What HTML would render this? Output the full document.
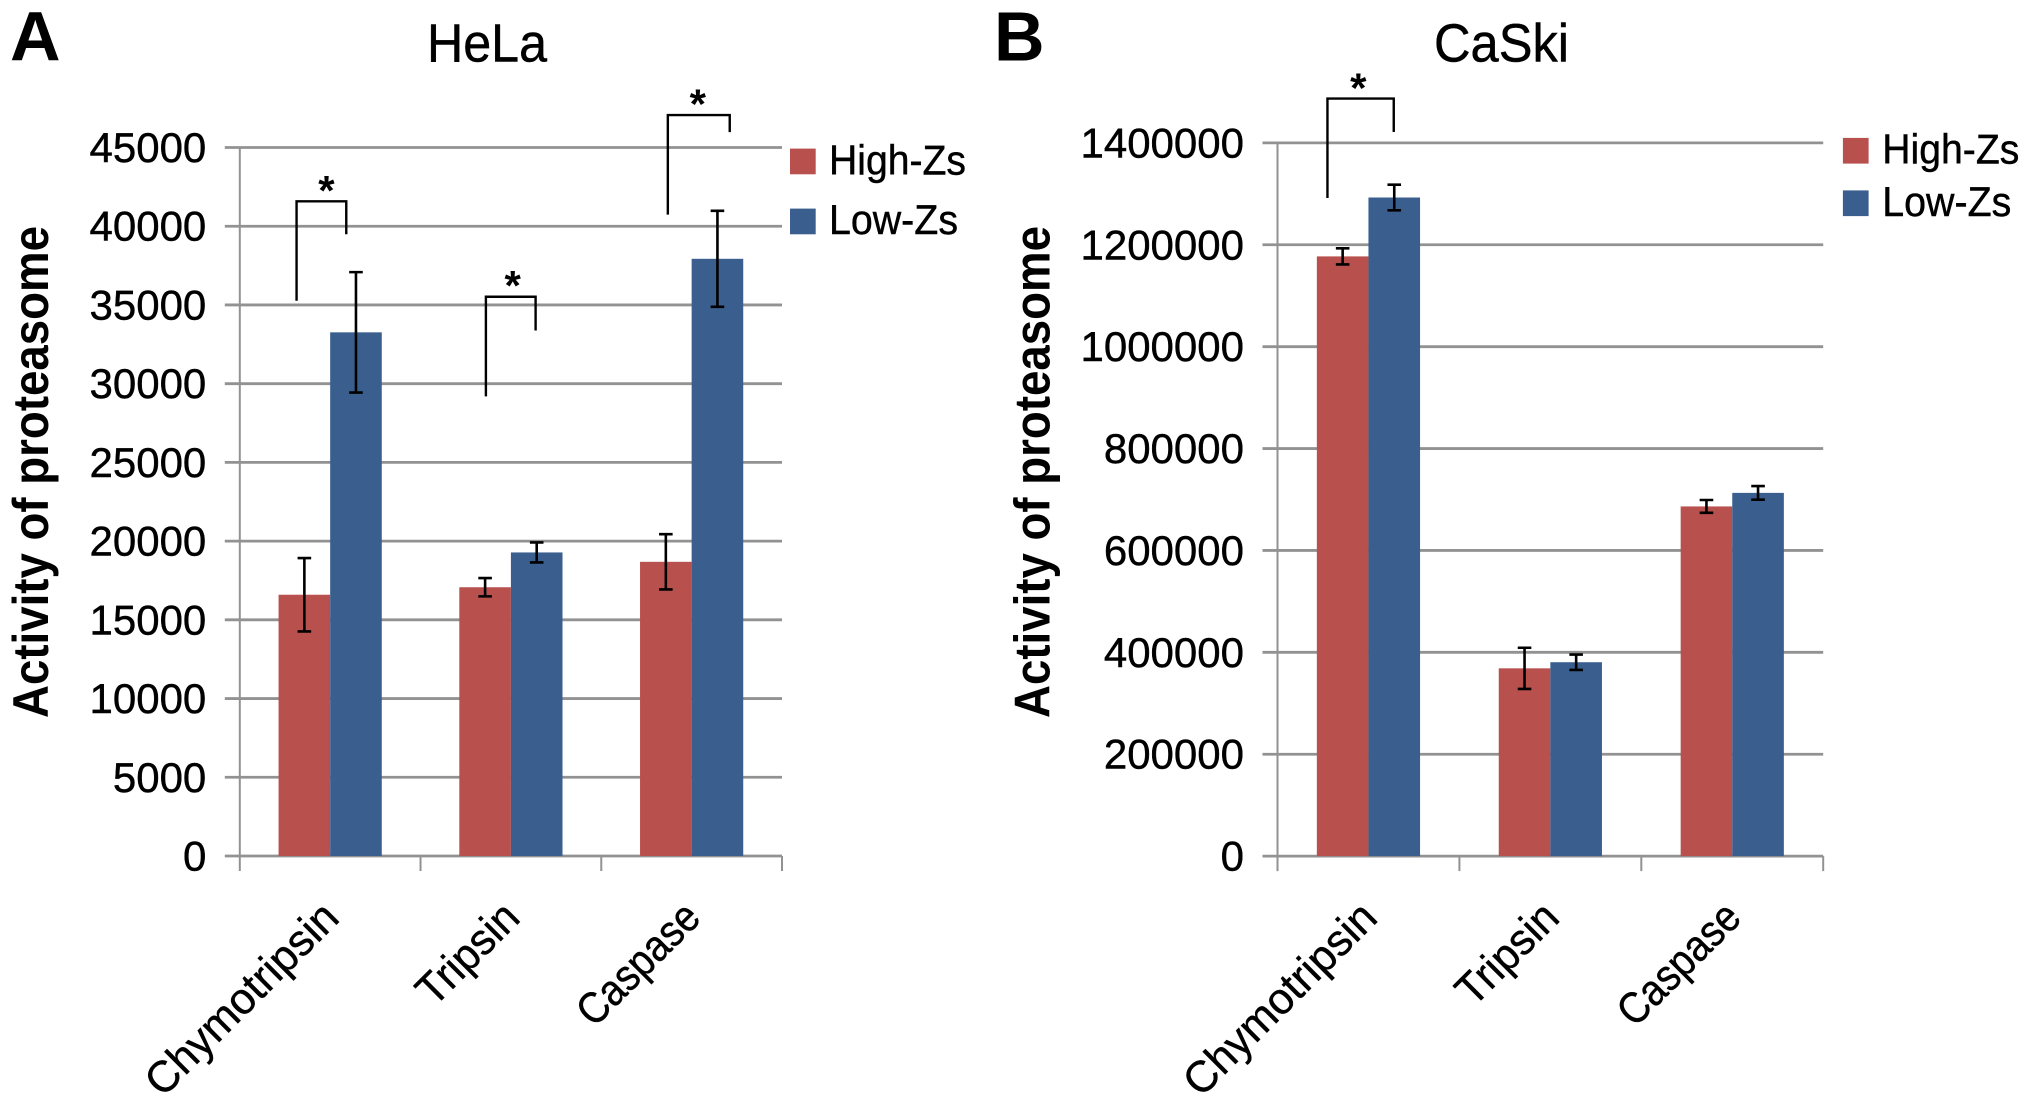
<!DOCTYPE html>
<html lang="en">
<head>
<meta charset="utf-8">
<title>Activity of proteasome: HeLa and CaSki</title>
<style>
html,body{margin:0;padding:0;background:#fff;width:2031px;height:1102px;overflow:hidden}
svg{display:block}
text{font-family:"Liberation Sans",sans-serif;fill:#000}
.lab{stroke:#000;stroke-width:0.45px}
</style>
</head>
<body>
<svg id="figure" xmlns="http://www.w3.org/2000/svg" width="2031" height="1102" viewBox="0 0 2031 1102">
<rect width="2031" height="1102" fill="#fff"/>
<text x="10" y="60.7" font-size="70" font-weight="bold">A</text>
<text x="994" y="60.7" font-size="70" font-weight="bold">B</text>
<text class="lab" x="427" y="61.4" font-size="54" textLength="120" lengthAdjust="spacingAndGlyphs">HeLa</text>
<text class="lab" x="1434" y="61.4" font-size="54" textLength="135" lengthAdjust="spacingAndGlyphs">CaSki</text>
<text transform="translate(48,718) rotate(-90)" font-size="50" font-weight="bold" textLength="492" lengthAdjust="spacingAndGlyphs">Activity of proteasome</text>
<text transform="translate(1049.6,718) rotate(-90)" font-size="50" font-weight="bold" textLength="492" lengthAdjust="spacingAndGlyphs">Activity of proteasome</text>
<rect x="790" y="148.6" width="25.7" height="25.7" fill="#b8514e"/>
<text class="lab" x="829" y="174.3" font-size="42" textLength="137" lengthAdjust="spacingAndGlyphs">High-Zs</text>
<rect x="790" y="208.6" width="25.7" height="25.7" fill="#3a5f8e"/>
<text class="lab" x="829" y="234" font-size="42" textLength="129" lengthAdjust="spacingAndGlyphs">Low-Zs</text>
<rect x="1842.9" y="137.9" width="25.7" height="25.7" fill="#b8514e"/>
<text class="lab" x="1882.3" y="163.6" font-size="42" textLength="137" lengthAdjust="spacingAndGlyphs">High-Zs</text>
<rect x="1842.9" y="190.4" width="25.7" height="25.7" fill="#3a5f8e"/>
<text class="lab" x="1882.3" y="216" font-size="42" textLength="129" lengthAdjust="spacingAndGlyphs">Low-Zs</text>
</svg>
<script>
const categories = ["Chymotripsin", "Tripsin", "Caspase"];

const helaTicks = [0, 5000, 10000, 15000, 20000, 25000, 30000, 35000, 40000, 45000];
const helaHigh = [16595, 17070, 18685];
const helaLow = [33260, 19280, 37930];
const helaHighErr = [2330, 580, 1755];
const helaLowErr = [3825, 635, 3050];
const helaBracketBase = [35270, 29190, 40740];
const helaBracketTop = [41580, 35520, 47060];
const helaBracketEnd = [39490, 33380, 45980];
const helaStarLevel = [42750, 36720, 48250];

const caskiTicks = [0, 200000, 400000, 600000, 800000, 1000000, 1200000, 1400000];
const caskiHigh = [1177200, 368600, 686400];
const caskiLow = [1292800, 380600, 713000];
const caskiHighErr = [15800, 40400, 12600];
const caskiLowErr = [25200, 15100, 13300];
const caskiBracketBase = [1291800];
const caskiBracketTop = [1487000];
const caskiBracketEnd = [1421400];
const caskiStarLevel = [1522700];

const svg = document.getElementById('figure');
const NS = 'http://www.w3.org/2000/svg';
const labelStretch = [1.03, 1, 0.925];

function make(tag, attrs) {
  const node = document.createElementNS(NS, tag);
  for (const k in attrs) node.setAttribute(k, attrs[k]);
  svg.appendChild(node);
  return node;
}

function drawPanel(p) {
  const y = v => p.y0 - (v - 0) * (p.y0 - p.yTop) / p.yMax;
  const bandW = (p.xRight - p.xLeft) / categories.length;
  const xCenter = i => p.xLeft + bandW * (i + 0.5);
  const barW = 51.6;
  const GRID = '#929292';

  p.ticks.forEach(t => {
    const grid = make('line', {x1: p.xLeft - 15, x2: p.xRight, y1: y(t), y2: y(t), stroke: GRID, 'stroke-width': 2.8});
    
    
    const label = make('text', {x: p.xLeft - 33.5, y: y(t) + 14.5, 'font-size': 42, 'text-anchor': 'end', 'class': 'lab'});
    label.textContent = String(t);
    
    
  });

  const yAxis = make('line', {x1: p.xLeft, x2: p.xLeft, y1: y(p.yMax), y2: p.y0 + 15, stroke: GRID, 'stroke-width': 2});
  
  

  for (let i = 1; i <= categories.length; i++) {
    const tx = p.xLeft + bandW * i;
    const tick = make('line', {x1: tx, x2: tx, y1: p.y0, y2: p.y0 + 15, stroke: GRID, 'stroke-width': 2});
    
    
  }

  categories.forEach((c, i) => {
    const cx = xCenter(i);
    const highBar = make('rect', {x: cx - barW, y: y(p.high[i]), width: barW, height: p.y0 - y(p.high[i]), fill: '#b8514e'});
    
    
    const lowBar = make('rect', {x: cx, y: y(p.low[i]), width: barW, height: p.y0 - y(p.low[i]), fill: '#3a5f8e'});
    
    

    const label = make('text', {'font-size': 44, 'text-anchor': 'end', 'class': 'lab', transform: 'translate(' + (cx + 11) + ',920) rotate(-45) scale(' + (labelStretch[i] * 42 / 44) + ',1)'});
    label.textContent = c;
    
    
  });

  categories.forEach((c, i) => {
    const cx = xCenter(i);
    [[cx - barW / 2, p.high[i], p.highErr[i], 'high'], [cx + barW / 2, p.low[i], p.lowErr[i], 'low']].forEach(s => {
      const top = y(s[1] + s[2]);
      const bot = y(s[1] - s[2]);
      const err = make('path', {
        d: 'M' + (s[0] - 6.8) + ' ' + top + 'H' + (s[0] + 6.8) + 'M' + s[0] + ' ' + top + 'V' + bot + 'M' + (s[0] - 6.8) + ' ' + bot + 'H' + (s[0] + 6.8),
        fill: 'none', stroke: '#000', 'stroke-width': 2.6
      });
      
      
    });
  });

  p.bracketBase.forEach((b, i) => {
    const cx = xCenter(i);
    const bracket = make('path', {
      d: 'M' + (cx + p.bracketLeft[i]) + ' ' + y(b) + 'V' + y(p.bracketTop[i]) + 'H' + (cx + p.bracketRight[i]) + 'V' + y(p.bracketEnd[i]),
      fill: 'none', stroke: '#000', 'stroke-width': 2.4
    });
    
    
    const star = make('text', {x: cx + p.starOffset[i], y: y(p.starLevel[i]) + 22, 'font-size': 42, 'font-weight': 'bold', 'text-anchor': 'middle'});
    star.textContent = '*';
    
    
  });
}

drawPanel({
  name: 'hela', xLeft: 239.8, xRight: 782, y0: 856, yTop: 147.5, yMax: 45000,
  ticks: helaTicks, high: helaHigh, low: helaLow, highErr: helaHighErr, lowErr: helaLowErr,
  bracketBase: helaBracketBase, bracketTop: helaBracketTop, bracketEnd: helaBracketEnd, starLevel: helaStarLevel,
  bracketLeft: [-33.6, -25, -23.8], bracketRight: [16.1, 24.7, 38.1], starOffset: [-3.7, 1.8, 6.2]
});

drawPanel({
  name: 'caski', xLeft: 1277.5, xRight: 1823.2, y0: 856.1, yTop: 142.9, yMax: 1400000,
  ticks: caskiTicks, high: caskiHigh, low: caskiLow, highErr: caskiHighErr, lowErr: caskiLowErr,
  bracketBase: caskiBracketBase, bracketTop: caskiBracketTop, bracketEnd: caskiBracketEnd, starLevel: caskiStarLevel,
  bracketLeft: [-41], bracketRight: [25.3], starOffset: [-10.2]
});
</script>
</body>
</html>
